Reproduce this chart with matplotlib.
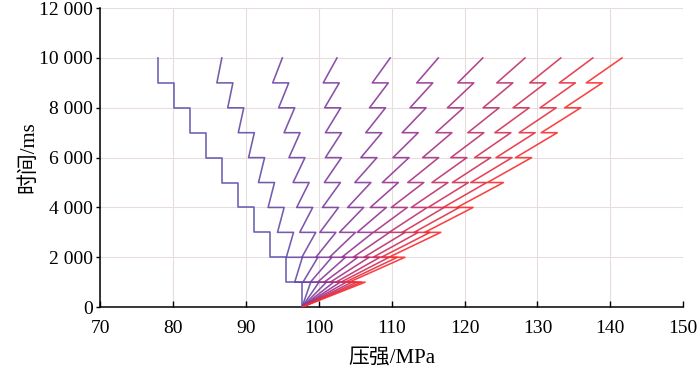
import numpy as np
import matplotlib
matplotlib.use("Agg")
import matplotlib.pyplot as plt
from matplotlib.colors import LinearSegmentedColormap
from matplotlib.ticker import FuncFormatter

# start point of every curve and the pressure drop at each 1000 ms step
startPressure = 97.7
stepDrop = 2.2
stepTimes = [1000, 2000, 3000, 4000, 5000, 6000, 7000, 8000, 9000, 10000]

# pressure reached at the end of each 1000 ms interval (MPa), one list per curve
peak0 = [97.7, 95.5, 93.3, 91.1, 88.9, 86.7, 84.5, 82.3, 80.1, 77.9]
peak1 = [98.9, 97.75, 96.54, 95.25, 93.93, 92.57, 91.16, 89.71, 88.22, 86.7]
peak2 = [100.03, 99.88, 99.59, 99.17, 98.68, 98.11, 97.44, 96.70, 95.88, 95.0]
peak3 = [101.05, 101.80, 102.35, 102.71, 102.97, 103.11, 103.12, 103.01, 102.81, 102.5]
peak4 = [102.04, 103.67, 105.04, 106.16, 107.15, 107.98, 108.65, 109.16, 109.54, 109.8]
peak5 = [102.94, 105.36, 107.47, 109.27, 110.92, 112.38, 113.64, 114.72, 115.64, 116.4]
peak6 = [103.77, 106.92, 109.71, 112.15, 114.41, 116.45, 118.26, 119.85, 121.27, 122.5]
peak7 = [104.55, 108.40, 111.85, 114.89, 117.73, 120.32, 122.65, 124.74, 126.62, 128.3]
peak8 = [105.22, 109.66, 113.65, 117.20, 120.53, 123.59, 126.36, 128.86, 131.14, 133.2]
peak9 = [105.82, 110.78, 115.27, 119.28, 123.05, 126.52, 129.69, 132.57, 135.20, 137.6]
peak10 = [106.36, 111.81, 116.74, 121.17, 125.34, 129.19, 132.72, 135.94, 138.90, 141.6]
peaks = [peak0, peak1, peak2, peak3, peak4, peak5, peak6, peak7, peak8, peak9, peak10]

xTicks = [70, 80, 90, 100, 110, 120, 130, 140, 150]
yTicks = [0, 2000, 4000, 6000, 8000, 10000, 12000]

plt.rcParams["font.family"] = ["Liberation Serif", "Noto Sans CJK SC"]

cmap = LinearSegmentedColormap.from_list(
    "bp", [(0.34, 0.31, 0.68), (0.58, 0.20, 0.58), (0.97, 0.18, 0.18)])

fig = plt.figure(figsize=(7.0, 3.7), dpi=100)
ax = fig.add_axes([0.143, 0.170, 0.833, 0.808])

for i, pk in enumerate(peaks):
    xs = [startPressure]
    ys = [0]
    for j, (t, p) in enumerate(zip(stepTimes, pk)):
        xs.append(p)
        ys.append(t)
        if j < len(pk) - 1:
            xs.append(p - stepDrop)
            ys.append(t)
    color = cmap(i / (len(peaks) - 1))
    ax.plot(xs, ys, color=color, linewidth=1.15, alpha=0.9, zorder=3)

ax.set_xlim(70, 150)
ax.set_ylim(0, 12000)
ax.set_xticks(xTicks)
ax.set_yticks(yTicks)
ax.yaxis.set_major_formatter(FuncFormatter(lambda v, p: f"{int(v):,}".replace(",", " ")))
ax.tick_params(axis="x", direction="in", length=4, width=1, labelsize=14, pad=9)
ax.tick_params(axis="y", direction="out", length=3, width=1, labelsize=14, pad=2)
ax.grid(True, color="#e8dcdd", linewidth=0.8, zorder=0)
ax.spines["top"].set_visible(False)
ax.spines["right"].set_visible(False)
ax.spines["left"].set_linewidth(1.1)
ax.spines["bottom"].set_linewidth(1.1)
ax.set_xlabel("压强/MPa", fontsize=15, labelpad=9)
ax.set_ylabel("时间/ms", fontsize=15, labelpad=1)

fig.savefig("out.png", dpi=100)
